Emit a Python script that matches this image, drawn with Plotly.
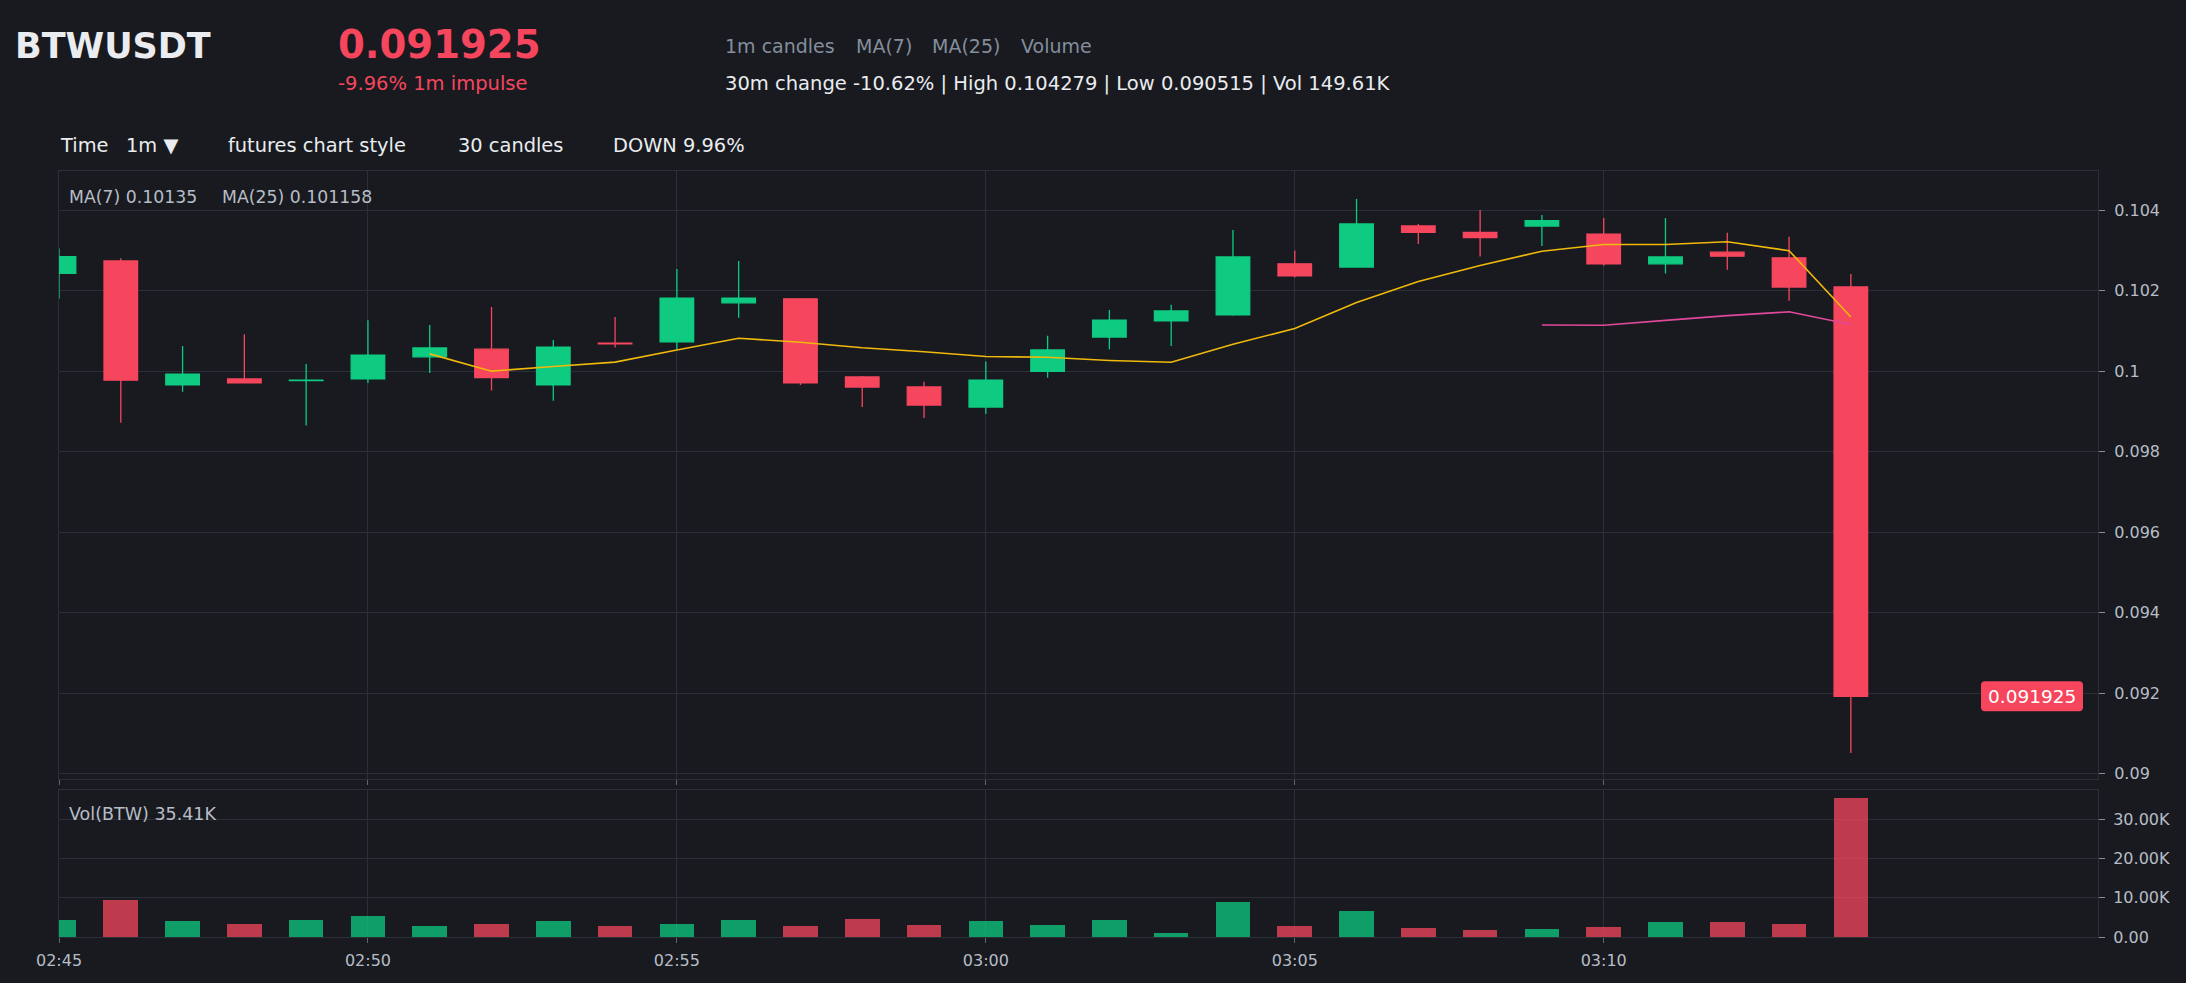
import pandas as pd
import plotly.graph_objects as go

# ---------------- data ----------------
time_labels = ["02:45", "02:46", "02:47", "02:48", "02:49", "02:50", "02:51", "02:52", "02:53", "02:54",
               "02:55", "02:56", "02:57", "02:58", "02:59", "03:00", "03:01", "03:02", "03:03", "03:04",
               "03:05", "03:06", "03:07", "03:08", "03:09", "03:10", "03:11", "03:12", "03:13", "03:14"]
opens = [0.10243, 0.10274, 0.09966, 0.09981, 0.09977, 0.09981, 0.10036, 0.10055, 0.09966, 0.10070,
         0.10073, 0.10170, 0.10180, 0.09986, 0.09961, 0.09911, 0.10000, 0.10085, 0.10125, 0.10140,
         0.10267, 0.10259, 0.10361, 0.10345, 0.10361, 0.10341, 0.10267, 0.10296, 0.10282, 0.102094]
highs = [0.10305, 0.10281, 0.10063, 0.10092, 0.10018, 0.10127, 0.10115, 0.10160, 0.10078, 0.10135,
         0.10254, 0.10274, 0.10180, 0.09988, 0.09974, 0.10024, 0.10088, 0.10152, 0.10165, 0.10351,
         0.10300, 0.104279, 0.10366, 0.10401, 0.10388, 0.10381, 0.10381, 0.10344, 0.10334, 0.10242]
lows = [0.10180, 0.09872, 0.09949, 0.09971, 0.09865, 0.09971, 0.09996, 0.09952, 0.09927, 0.10059,
        0.10054, 0.10133, 0.09966, 0.09911, 0.09884, 0.09894, 0.09984, 0.10055, 0.10063, 0.10138,
        0.10233, 0.10257, 0.10316, 0.10285, 0.10311, 0.10262, 0.10243, 0.10252, 0.10175, 0.090515]
closes = [0.10285, 0.09978, 0.09993, 0.09971, 0.09978, 0.10040, 0.10058, 0.09984, 0.10060, 0.10068,
          0.10182, 0.10182, 0.09971, 0.09961, 0.09916, 0.09978, 0.10053, 0.10127, 0.10150, 0.10284,
          0.10237, 0.10366, 0.10345, 0.10332, 0.10374, 0.10267, 0.10284, 0.10286, 0.102094, 0.091925]
volumes = [4430, 9340, 4170, 3390, 4430, 5460, 2880, 3390, 4170, 2880,
           3390, 4430, 2880, 4690, 3140, 4170, 3140, 4430, 1070, 8820,
           2880, 6500, 2360, 1840, 2100, 2620, 3910, 3910, 3390, 35410]
x_tick_labels = ["02:45", "02:50", "02:55", "03:00", "03:05", "03:10"]
vol_ticks = [0, 10000, 20000, 30000]
vol_tick_text = ["0.00", "10.00K", "20.00K", "30.00K"]

DAY = "2024-05-20 "
xs = [DAY + t for t in time_labels]
x_tick_vals = [DAY + t for t in x_tick_labels]
ma7 = pd.Series(closes).rolling(7).mean()
ma25 = pd.Series(closes).rolling(25).mean()

# ---------------- style ----------------
UP = "#0ecb81"
DOWN = "#f6465d"
BG = "#181a20"
GRID = "#2b3038"
TXT = "#eaecef"
MUTED = "#848e9c"
TICK = "#b7bdc6"
FONT = "DejaVu Sans"

W, H = 2186, 983
L, R, T, B = 59, 88, 171, 46
PW = W - L - R
PH = H - T - B


def px(x):
    return (x - L) / PW


def py(y):
    return (H - B - y) / PH


price_dom = [py(779), 1]
vol_dom = [0, py(790)]

fig = go.Figure()

fig.add_trace(go.Candlestick(
    x=xs, open=opens, high=highs, low=lows, close=closes,
    increasing=dict(line=dict(color=UP, width=1.3), fillcolor=UP),
    decreasing=dict(line=dict(color=DOWN, width=1.3), fillcolor=DOWN),
    whiskerwidth=0, xaxis="x", yaxis="y", showlegend=False, hoverinfo="skip",
))
fig.add_trace(go.Scatter(x=xs, y=ma7, mode="lines", line=dict(color="#f0b90b", width=1.6),
                         xaxis="x", yaxis="y", showlegend=False, hoverinfo="skip"))
fig.add_trace(go.Scatter(x=xs, y=ma25, mode="lines", line=dict(color="#e0489a", width=1.6),
                         xaxis="x", yaxis="y", showlegend=False, hoverinfo="skip"))

vol_colors = [UP if c >= o else DOWN for o, c in zip(opens, closes)]
fig.add_trace(go.Bar(x=xs, y=volumes, marker=dict(color=vol_colors, line=dict(width=0)),
                     opacity=0.75, width=33600, xaxis="x2", yaxis="y2",
                     showlegend=False, hoverinfo="skip"))

axis_common = dict(showgrid=True, gridcolor=GRID, gridwidth=1, zeroline=False,
                   showline=True, linecolor=GRID, linewidth=1, mirror=True)

fig.update_layout(
    width=W, height=H,
    margin=dict(l=L, r=R, t=T, b=B, pad=0),
    paper_bgcolor=BG, plot_bgcolor=BG,
    font=dict(family=FONT, color=TICK, size=16),
    showlegend=False,
    boxgap=0.457, boxgroupgap=0,
    bargap=0,
    xaxis=dict(domain=[0, 1], anchor="y", type="date",
               range=[xs[0], DAY + "03:18"], tickvals=x_tick_vals, ticktext=x_tick_labels,
               showticklabels=False, ticks="outside", ticklen=5,
               tickcolor="#5e6673", rangeslider=dict(visible=False), **axis_common),
    yaxis=dict(domain=price_dom, anchor="x", side="right",
               range=[0.08987, 0.104976], tick0=0.09, dtick=0.002,
               ticks="outside", ticklen=6, tickcolor=MUTED, ticklabelstandoff=6,
               tickfont=dict(size=16, color=TICK, family=FONT), **axis_common),
    xaxis2=dict(domain=[0, 1], anchor="y2", type="date", matches="x",
                tickvals=x_tick_vals, ticktext=x_tick_labels,
                ticks="outside", ticklen=5, tickcolor="#5e6673", ticklabelstandoff=4,
                tickfont=dict(size=16, color=TICK, family=FONT), **axis_common),
    yaxis2=dict(domain=vol_dom, anchor="x2", side="right", range=[0, 37400],
                tickvals=vol_ticks, ticktext=vol_tick_text,
                ticks="outside", ticklen=6, tickcolor=MUTED, ticklabelstandoff=5,
                tickfont=dict(size=16, color=TICK, family=FONT), **axis_common),
)

# ---------------- price badge ----------------
last = closes[-1]
bx0, bx1 = px(1981), px(2083)
half = 15 / 80.5 * 0.002
rx = 4 / PW
ry = 4 / 80.5 * 0.002
y0, y1 = last - half, last + half
path = (f"M {bx0 + rx},{y0} L {bx1 - rx},{y0} Q {bx1},{y0} {bx1},{y0 + ry} "
        f"L {bx1},{y1 - ry} Q {bx1},{y1} {bx1 - rx},{y1} L {bx0 + rx},{y1} "
        f"Q {bx0},{y1} {bx0},{y1 - ry} L {bx0},{y0 + ry} Q {bx0},{y0} {bx0 + rx},{y0} Z")
fig.add_shape(type="path", path=path, xref="paper", yref="y",
              fillcolor=DOWN, line=dict(width=0), layer="above")
fig.add_annotation(x=(bx0 + bx1) / 2, y=last, xref="paper", yref="y",
                   text=f"{last:.6f}", showarrow=False, xanchor="center", yanchor="middle",
                   font=dict(family=FONT, size=18.5, color="#ffffff"))

# ---------------- text ----------------
texts = [
    ("<b>BTWUSDT</b>", 13, 46, 35, TXT),
    ("<b>0.091925</b>", 336, 45, 38.6, DOWN),
    ("-9.96% 1m impulse", 336, 83.5, 19.5, DOWN),
    ("1m candles", 723, 46, 19, MUTED),
    ("MA(7)", 854, 46, 19, MUTED),
    ("MA(25)", 930, 46, 19, MUTED),
    ("Volume", 1019, 46, 19, MUTED),
    ("30m change -10.62% | High 0.104279 | Low 0.090515 | Vol 149.61K", 723, 84, 19.5, TXT),
    ("Time", 58, 145.5, 19.4, TXT),
    ("1m ▼", 124, 145.5, 19.4, TXT),
    ("futures chart style", 226, 145.5, 19.4, TXT),
    ("30 candles", 456, 145.5, 19.4, TXT),
    ("DOWN 9.96%", 611, 145.5, 19.4, TXT),
    ("MA(7) 0.10135", 67, 197.5, 17.3, TICK),
    ("MA(25) 0.101158", 220, 197.5, 17.3, TICK),
    ("Vol(BTW) 35.41K", 67, 813.7, 17.5, TICK),
]
for t, x, y, s, c in texts:
    fig.add_annotation(x=px(x), y=py(y), xref="paper", yref="paper", text=t,
                       showarrow=False, xanchor="left", yanchor="middle",
                       font=dict(family=FONT, size=s, color=c))

fig.write_html("out.html")
